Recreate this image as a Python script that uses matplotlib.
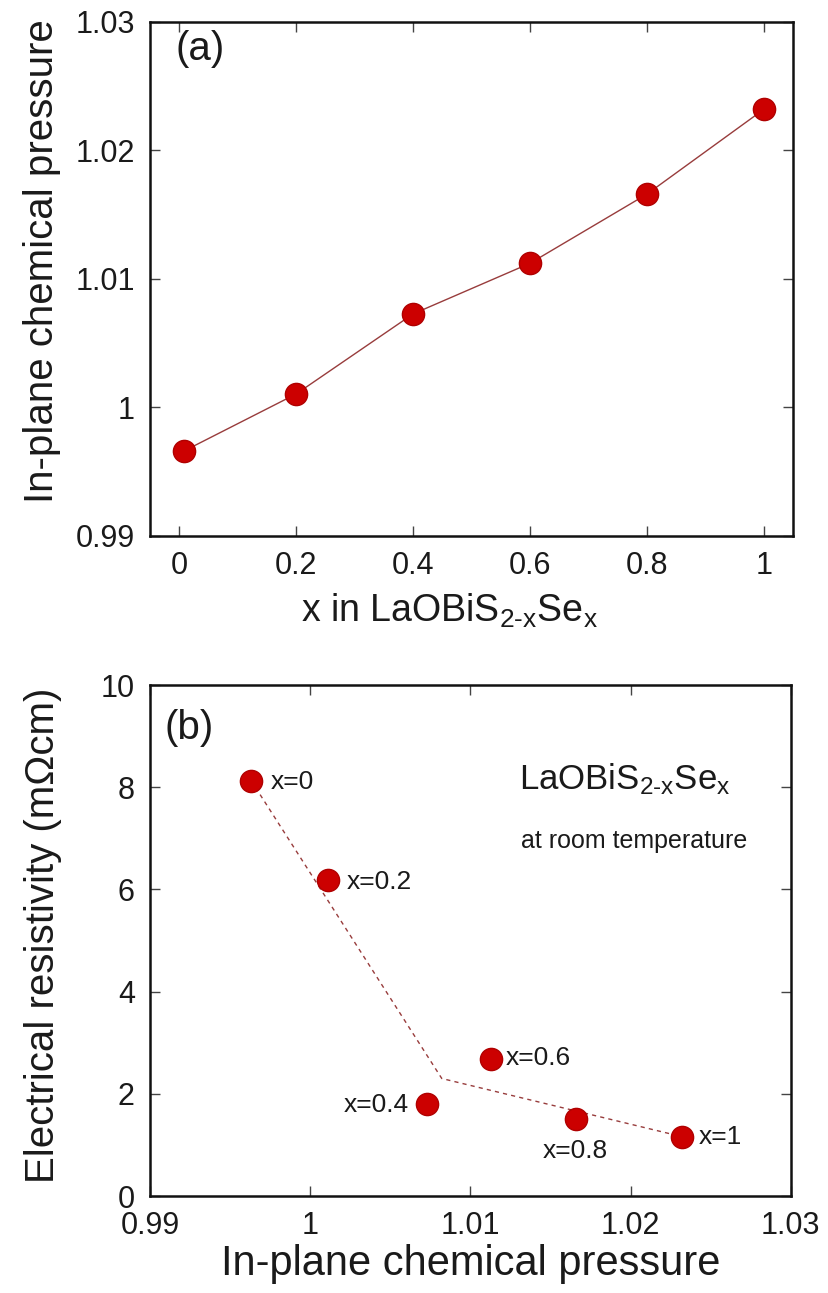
import matplotlib
matplotlib.use("Agg")
import matplotlib.pyplot as plt
from matplotlib.ticker import FuncFormatter

plt.rcParams["font.family"] = ["Liberation Sans", "DejaVu Sans"]
plt.rcParams["mathtext.fontset"] = "custom"
plt.rcParams["mathtext.rm"] = "Liberation Sans"
plt.rcParams["mathtext.it"] = "Liberation Sans"

# panel (a): in-plane chemical pressure vs Se content
x_se = [0.008, 0.2, 0.4, 0.6, 0.8, 1.0]
pressure_a = [0.99661, 1.00105, 1.00728, 1.01122, 1.0166, 1.0232]

# panel (b): resistivity vs in-plane chemical pressure
pressure_b = [0.99631, 1.00113, 1.00726, 1.01126, 1.01656, 1.02323]
rho = [8.13, 6.18, 1.81, 2.68, 1.50, 1.16]
point_labels = ["x=0", "x=0.2", "x=0.4", "x=0.6", "x=0.8", "x=1"]
# dashed guide line (x, y)
guide_x = [0.99631, 1.00821, 1.02323]
guide_y = [8.13, 2.30, 1.16]

xticks_a = [0, 0.2, 0.4, 0.6, 0.8, 1]
yticks_a = [0.99, 1.0, 1.01, 1.02, 1.03]
xticks_b = [0.99, 1.0, 1.01, 1.02, 1.03]
yticks_b = [0, 2, 4, 6, 8, 10]

RED = "#cc0000"
EDGE = "#b00000"
LINE = "#983c3c"
TXT = "#1a1a1a"

fig = plt.figure(figsize=(8.29, 12.93), dpi=100)
ax_a = fig.add_axes([0.181, 0.5855, 0.7756, 0.3975])
ax_b = fig.add_axes([0.181, 0.075, 0.7730, 0.3952])

fmt = FuncFormatter(lambda v, p: "%g" % round(v, 4))

for ax in (ax_a, ax_b):
    ax.tick_params(direction="in", top=True, right=True, length=7, width=1.0,
                   labelsize=22, colors="#444444", labelcolor=TXT, pad=11)
    for s in ax.spines.values():
        s.set_linewidth(1.8)
        s.set_color("#111111")
    ax.xaxis.set_major_formatter(fmt)
    ax.yaxis.set_major_formatter(fmt)

# ---- (a)
ax_a.plot(x_se, pressure_a, "-", color=LINE, lw=1.0, marker="o", ms=16,
          mfc=RED, mec=EDGE, mew=1.0)
ax_a.set_xlim(-0.05, 1.05)
ax_a.set_ylim(0.99, 1.03)
ax_a.set_xticks(xticks_a)
ax_a.set_yticks(yticks_a)
ax_a.set_xlabel("x in LaOBiS$_{\\text{2-x}}$Se$_{\\text{x}}$", fontsize=27, color=TXT)
ax_a.set_ylabel("In-plane chemical pressure", fontsize=29, color=TXT)
ax_a.xaxis.set_label_coords(0.466, -0.108)
ax_a.yaxis.set_label_coords(-0.138, 0.535)
ax_a.text(0.04, 0.948, "(a)", transform=ax_a.transAxes, fontsize=29, color=TXT,
          ha="left", va="center")

# ---- (b)
ax_b.plot(guide_x, guide_y, "--", color=LINE, lw=1.0, dashes=(3, 3))
ax_b.plot(pressure_b, rho, "o", ms=16, mfc=RED, mec=EDGE, mew=1.0, ls="none")
ax_b.set_xlim(0.99, 1.03)
ax_b.set_ylim(0, 10)
ax_b.set_xticks(xticks_b)
ax_b.set_yticks(yticks_b)
ax_b.set_xlabel("In-plane chemical pressure", fontsize=30, color=TXT, labelpad=2)
ax_b.set_ylabel("Electrical resistivity (m\u03a9cm)", fontsize=29, color=TXT)
ax_b.yaxis.set_label_coords(-0.138, 0.51)
ax_b.text(0.022, 0.915, "(b)", transform=ax_b.transAxes, fontsize=29, color=TXT,
          ha="left", va="center")
ax_b.text(0.741, 0.815, "LaOBiS$_{\\text{2-x}}$Se$_{\\text{x}}$", transform=ax_b.transAxes,
          fontsize=25, color=TXT, ha="center", va="center")
ax_b.text(0.755, 0.695, "at room temperature", transform=ax_b.transAxes,
          fontsize=18, color=TXT, ha="center", va="center")

# label offsets in points (dx, dy, ha)
offsets = [(14, -1, "left"), (13, -1, "left"), (-13, -1, "right"),
           (11, 1, "left"), (0, -23, "center"), (12, 0, "left")]
for px, r, lab, (dx, dy, ha) in zip(pressure_b, rho, point_labels, offsets):
    ax_b.annotate(lab, (px, r), xytext=(dx, dy), textcoords="offset points",
                  fontsize=19, color=TXT, ha=ha, va="center")

fig.savefig("out.png", dpi=100)
